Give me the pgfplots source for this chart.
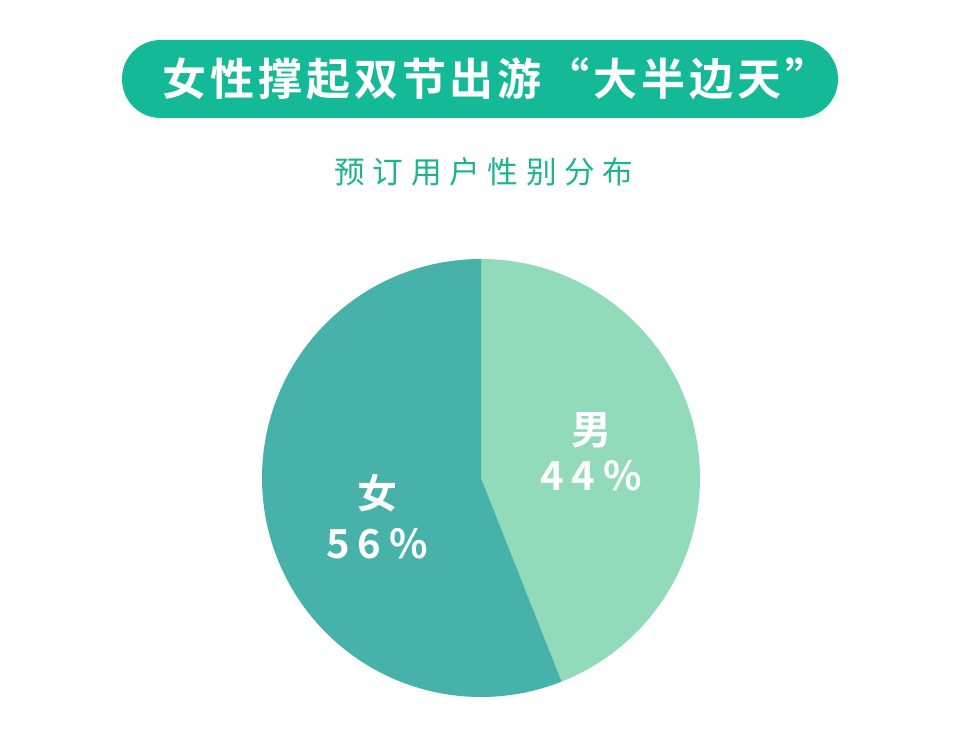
\documentclass[border=0pt]{standalone}
\usepackage{pgfplots}
\pgfplotsset{compat=1.18}
\usepackage{pgfplotstable}
\usepackage{fontspec}
\setmainfont{Noto Sans CJK SC}
\newfontfamily\titlefont[LetterSpace=9]{Noto Sans CJK SC Bold}
\newfontfamily\subfont[LetterSpace=25]{Noto Sans CJK SC}
\newfontfamily\labelfont[LetterSpace=20]{Noto Sans CJK SC Bold}

\definecolor{banner}{RGB}{20,186,152}
\definecolor{subgreen}{RGB}{29,179,143}
\definecolor{male}{RGB}{145,219,186}
\definecolor{female}{RGB}{70,178,169}

% share of bookings by gender, in percent
\pgfplotstableread{
group share
male 44
female 56
}\genderdata

\pgfplotstablegetelem{0}{share}\of\genderdata
\let\maleshare\pgfplotsretval
\pgfmathsetmacro\split{90-3.6*\maleshare}
\pgfmathsetmacro\splitb{\split+360}

\begin{document}
\begin{tikzpicture}
\begin{axis}[
    x=0.75pt, y=0.75pt,
    xmin=0, xmax=960, ymin=0, ymax=740,
    hide axis, clip=false,
  ]
  % keep the full canvas
  \path (axis cs:0,0) rectangle (axis cs:960,740);
  % title banner
  \fill[banner, rounded corners=29pt] (axis cs:122,622) rectangle (axis cs:838,700);
  \node[white, font=\titlefont\fontsize{33}{36}\selectfont] at (axis cs:496,661) {女性撑起双节出游“大半边天”};
  \node[subgreen, font=\subfont\fontsize{23}{26}\selectfont] at (axis cs:484,568) {预订用户性别分布};

  % pie
  \fill[male] (axis cs:481,262) -- (axis cs:481,481)
    arc[start angle=90, end angle=\split, radius=164.25pt] -- cycle;
  \fill[female] (axis cs:481,262) -- (axis cs:481,481)
    arc[start angle=90, end angle=\splitb, radius=164.25pt] -- cycle;

  \node[white, font=\labelfont\fontsize{30}{32}\selectfont] at (axis cs:591,310) {男};
  \node[white, font=\labelfont\fontsize{30}{32}\selectfont] at (axis cs:591,264) {44\%};
  \node[white, font=\labelfont\fontsize{30}{32}\selectfont] at (axis cs:377,247) {女};
  \node[white, font=\labelfont\fontsize{30}{32}\selectfont] at (axis cs:377,196) {56\%};
\end{axis}
\end{tikzpicture}
\end{document}
